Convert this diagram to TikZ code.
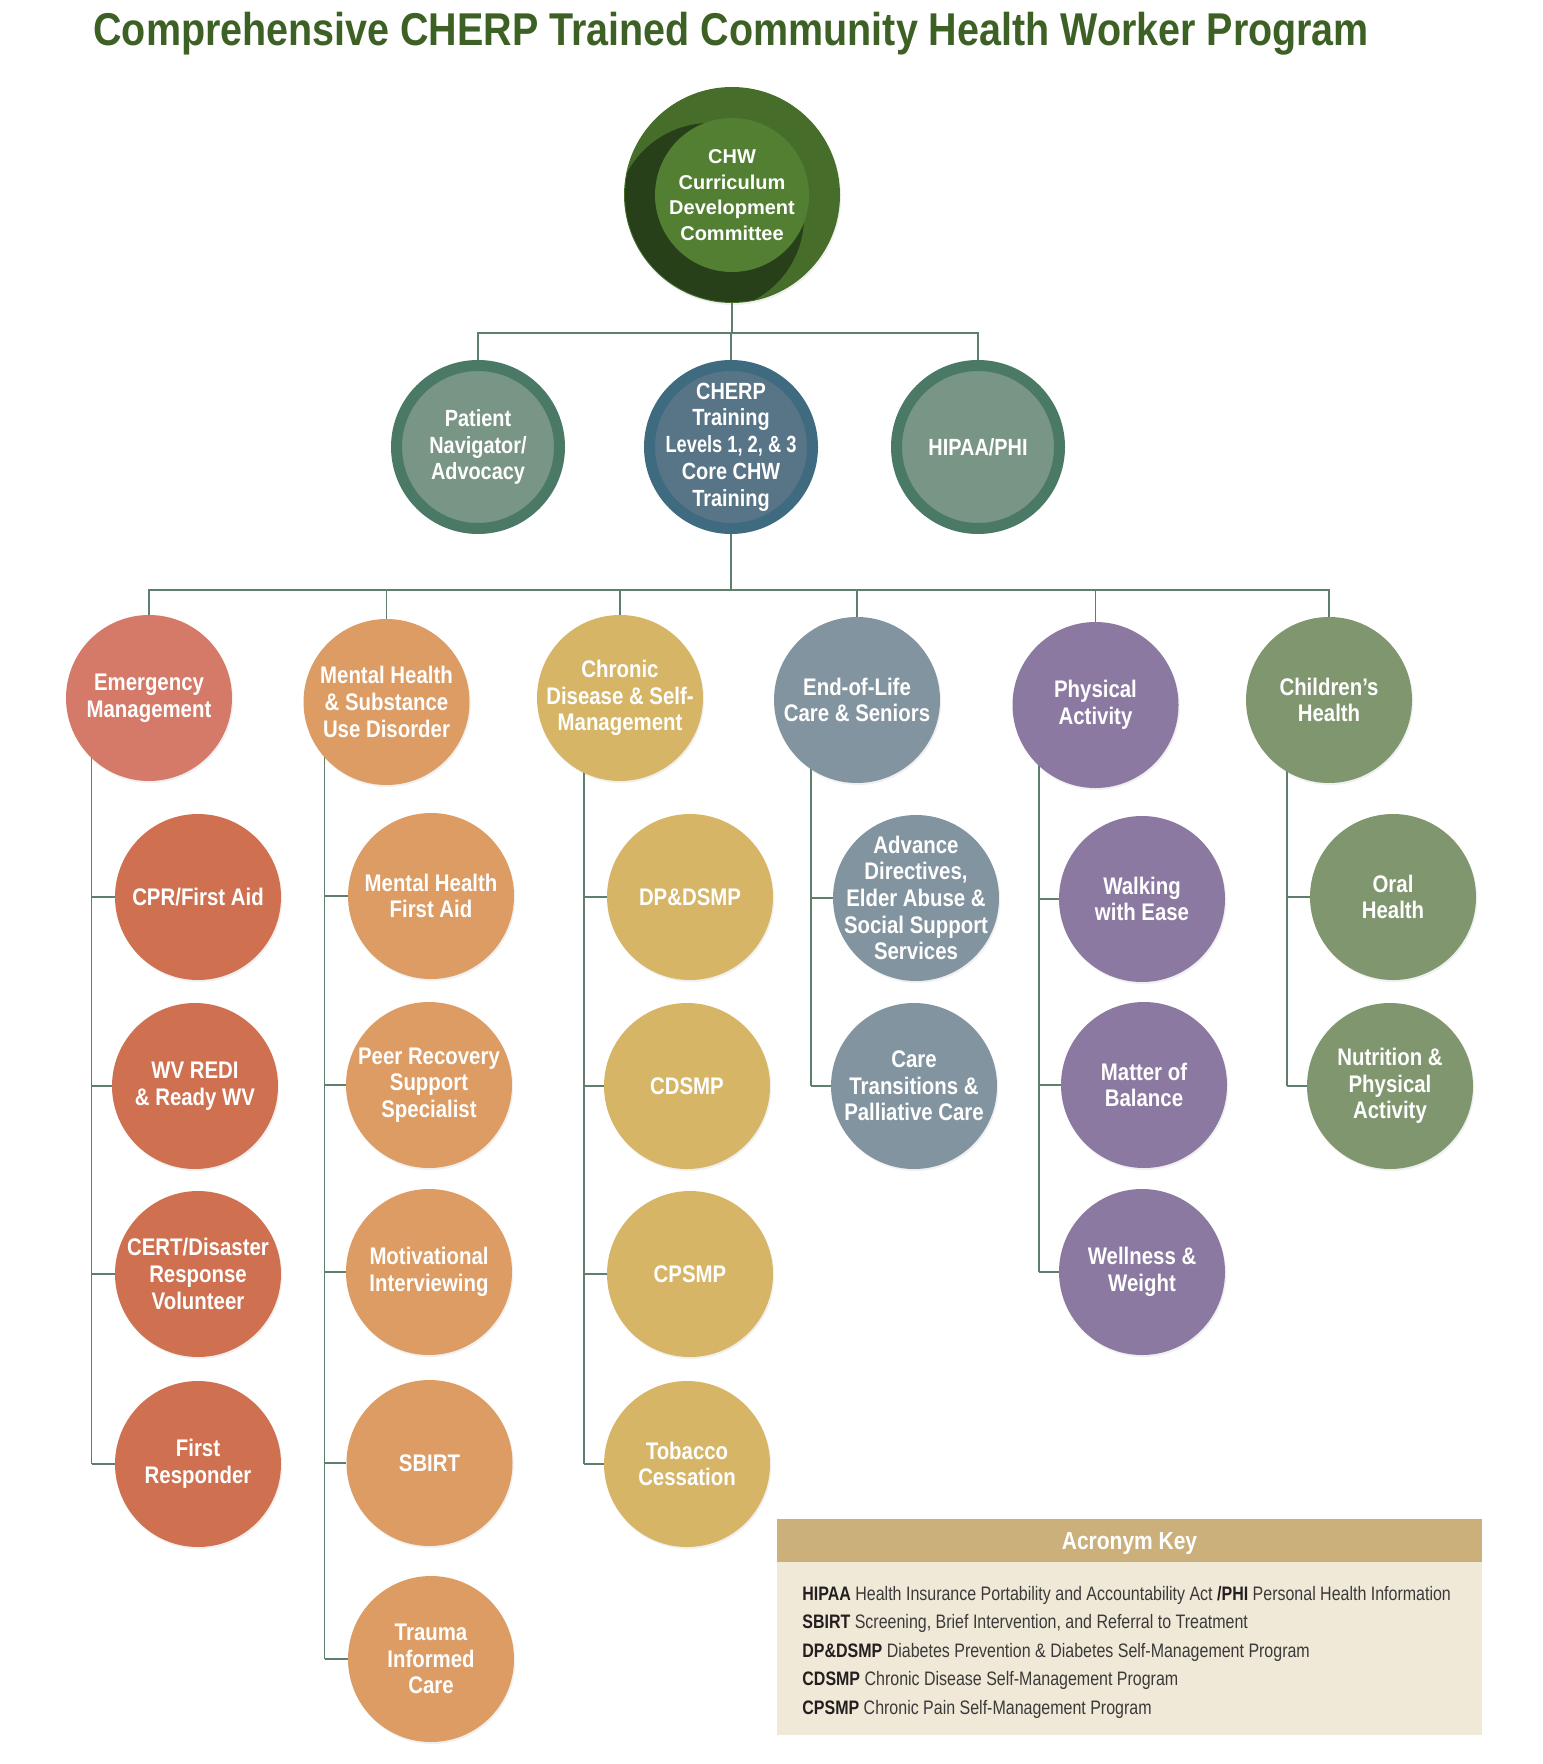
\documentclass[tikz,border=0pt]{standalone}
\usepackage{fontspec}
\setmainfont{Liberation Sans}
\newfontfamily\cf[FakeStretch=0.85]{Liberation Sans}
\newfontfamily\tf[FakeStretch=0.858]{Liberation Sans}
\newfontfamily\kf[FakeStretch=0.82]{Liberation Sans}
\usetikzlibrary{backgrounds,calc,shadows}
\definecolor{titleg}{HTML}{3D6125}
\definecolor{topout}{HTML}{466E2A}
\definecolor{topin}{HTML}{527F32}
\definecolor{topsh}{HTML}{27401A}
\definecolor{pnring}{HTML}{4A7A66}
\definecolor{pnfill}{HTML}{799585}
\definecolor{chring}{HTML}{3E6B80}
\definecolor{chfill}{HTML}{587588}
\definecolor{emA}{HTML}{D57A68}
\definecolor{emB}{HTML}{CF7150}
\definecolor{mhc}{HTML}{DC9C64}
\definecolor{cdc}{HTML}{D6B567}
\definecolor{eolc}{HTML}{8394A1}
\definecolor{pac}{HTML}{8B79A1}
\definecolor{chc}{HTML}{80966F}
\definecolor{lineg}{HTML}{5F7E6C}
\definecolor{hdr}{HTML}{CCB07C}
\definecolor{keybody}{HTML}{F1E9D8}
\definecolor{keyb}{HTML}{231F20}
\definecolor{keyt}{HTML}{3A3A3A}
\begin{document}
\begin{tikzpicture}[x=0.5pt,y=-0.5pt,
  conn/.style={draw=lineg, line width=0.8pt},
  softsh/.style={drop shadow={shadow xshift=0.6pt, shadow yshift=-1pt, opacity=0.12}},
  bub/.style={circle, inner sep=-20pt, minimum size=83pt, fill=#1, text=white, align=center,
    font=\cf\bfseries\fontsize{12}{13.35}\selectfont, softsh},
  ringbub/.style 2 args={circle, inner sep=-20pt, minimum size=81.5pt, fill=#2, draw=#1,
    line width=5.5pt, text=white, align=center,
    font=\cf\bfseries\fontsize{11.7}{13.35}\selectfont, softsh},
  keyline/.style={anchor=base west, inner sep=0pt, text=keyt, font=\kf\fontsize{9.75}{12}\selectfont},
]
\useasboundingbox (0,0) rectangle (1542,1764);

% title
\node[anchor=base west, inner sep=0pt, text=titleg, font=\tf\bfseries\fontsize{23}{27}\selectfont]
  (title) at (93,46) {Comprehensive CHERP Trained Community Health Worker Program};

% top circle
\node[circle, inner sep=0pt, minimum size=108pt, fill=topout, softsh] (top) at (732,195) {};
\begin{scope}
  \clip (732,195) circle (107);
  \fill[topsh] (710,217) circle (94);
\end{scope}
\node[circle, inner sep=-20pt, minimum size=77pt, fill=topin, text=white, align=center,
  font=\bfseries\fontsize{10}{12.85}\selectfont] (topin) at (732,195)
  {CHW\\Curriculum\\Development\\Committee};

% second row
\node[ringbub={pnring}{pnfill}] (pat) at (478,447) {Patient\\Navigator/\\Advocacy};
\node[ringbub={chring}{chfill}] (cherp) at (731,447)
  {CHERP\\Training\\{\addfontfeature{FakeStretch=0.78}Levels 1, 2, \& 3}\\Core CHW\\Training};
\node[ringbub={pnring}{pnfill}] (hip) at (978,447) {HIPAA/PHI};

% categories
\node[bub=emA] (em) at (149,698) {Emergency\\Management};
\node[bub=mhc] (mh) at (386.5,702) {Mental Health\\\& Substance\\Use Disorder};
\node[bub=cdc] (cd) at (620,698) {Chronic\\Disease \& Self-\\Management};
\node[bub=eolc] (eol) at (857,700) {End-of-Life\\Care \& Seniors};
\node[bub=pac] (pa) at (1095.5,705) {Physical\\Activity};
\node[bub=chc] (chh) at (1329,700) {Children’s\\Health};

% emergency children
\node[bub=emB] (cpr) at (198,897) {CPR/First Aid};
\node[bub=emB] (wv) at (195,1086) {WV REDI\\\& Ready WV};
\node[bub=emB] (cert) at (198,1274) {CERT/Disaster\\Response\\Volunteer};
\node[bub=emB] (fr) at (198,1464) {First\\Responder};

% mental health children
\node[bub=mhc] (mhfa) at (431,896) {Mental Health\\First Aid};
\node[bub=mhc] (peer) at (429,1085) {Peer Recovery\\Support\\Specialist};
\node[bub=mhc] (mi) at (429,1272) {Motivational\\Interviewing};
\node[bub=mhc] (sbirt) at (429.5,1463) {SBIRT};
\node[bub=mhc] (tic) at (431,1659) {Trauma\\Informed\\Care};

% chronic children
\node[bub=cdc] (dp) at (690,897) {DP\&DSMP};
\node[bub=cdc] (cds) at (687,1086) {CDSMP};
\node[bub=cdc] (cps) at (690,1274) {CPSMP};
\node[bub=cdc] (tob) at (687,1464) {Tobacco\\Cessation};

% end of life children
\node[bub=eolc] (adv) at (916,898) {Advance\\Directives,\\Elder Abuse \&\\Social Support\\Services};
\node[bub=eolc] (ct) at (914,1086) {Care\\Transitions \&\\Palliative Care};

% physical activity children
\node[bub=pac] (walk) at (1142,899) {Walking\\with Ease};
\node[bub=pac] (mob) at (1144,1085) {Matter of\\Balance};
\node[bub=pac] (ww) at (1142,1272) {Wellness \&\\Weight};

% children's health children
\node[bub=chc] (oral) at (1393,897) {Oral\\Health};
\node[bub=chc] (nut) at (1390,1086) {Nutrition \&\\Physical\\Activity};

% acronym key
\node[anchor=north west, inner sep=0pt, minimum width=352.5pt, minimum height=86.5pt, fill=keybody]
  (keybox) at (777,1562) {};
\node[anchor=north west, inner sep=0pt, minimum width=352.5pt, minimum height=21.5pt, fill=hdr]
  (keyhead) at (777,1519) {};
\node[anchor=base, inner sep=0pt, text=white, font=\cf\bfseries\fontsize{12.35}{14}\selectfont]
  (keytitle) at (1129.5,1549.5) {Acronym Key};
\node[keyline] (k1) at (802,1600) {\textcolor{keyb}{\bfseries HIPAA} Health Insurance Portability and Accountability Act \textcolor{keyb}{\bfseries /PHI} Personal Health Information};
\node[keyline] (k2) at (802,1628.5) {\textcolor{keyb}{\bfseries SBIRT} Screening, Brief Intervention, and Referral to Treatment};
\node[keyline] (k3) at (802,1657) {\textcolor{keyb}{\bfseries DP\&DSMP} Diabetes Prevention \& Diabetes Self-Management Program};
\node[keyline] (k4) at (802,1685.5) {\textcolor{keyb}{\bfseries CDSMP} Chronic Disease Self-Management Program};
\node[keyline] (k5) at (802,1714) {\textcolor{keyb}{\bfseries CPSMP} Chronic Pain Self-Management Program};

% connectors
\coordinate (j1) at (731,333);
\coordinate (j2) at (731,590);
\coordinate (s1) at (91.5,0);
\coordinate (s2) at (324.5,0);
\coordinate (s3) at (584,0);
\coordinate (s4) at (811,0);
\coordinate (s5) at (1039,0);
\coordinate (s6) at (1287,0);
\begin{scope}[on background layer]
  \draw[conn] (top.south) -- (top.south |- j1);
  \draw[conn] (pat.north) -- (pat.north |- j1) -- (hip.north |- j1) -- (hip.north);
  \draw[conn] (cherp.north) -- (cherp.north |- j1);
  \draw[conn] (cherp.south) -- (j2);
  \draw[conn] (em.north) -- (em.north |- j2) -- (chh.north |- j2) -- (chh.north);
  \foreach \n in {mh,cd,eol,pa} \draw[conn] (\n.north) -- (\n.north |- j2);
  \draw[conn] (em.center -| s1) -- (fr.center -| s1);
  \foreach \n in {cpr,wv,cert,fr} \draw[conn] (\n.center -| s1) -- (\n.west);
  \draw[conn] (mh.center -| s2) -- (tic.center -| s2);
  \foreach \n in {mhfa,peer,mi,sbirt,tic} \draw[conn] (\n.center -| s2) -- (\n.west);
  \draw[conn] (cd.center -| s3) -- (tob.center -| s3);
  \foreach \n in {dp,cds,cps,tob} \draw[conn] (\n.center -| s3) -- (\n.west);
  \draw[conn] (eol.center -| s4) -- (ct.center -| s4);
  \foreach \n in {adv,ct} \draw[conn] (\n.center -| s4) -- (\n.west);
  \draw[conn] (pa.center -| s5) -- (ww.center -| s5);
  \foreach \n in {walk,mob,ww} \draw[conn] (\n.center -| s5) -- (\n.west);
  \draw[conn] (chh.center -| s6) -- (nut.center -| s6);
  \foreach \n in {oral,nut} \draw[conn] (\n.center -| s6) -- (\n.west);
\end{scope}
\end{tikzpicture}
\end{document}
